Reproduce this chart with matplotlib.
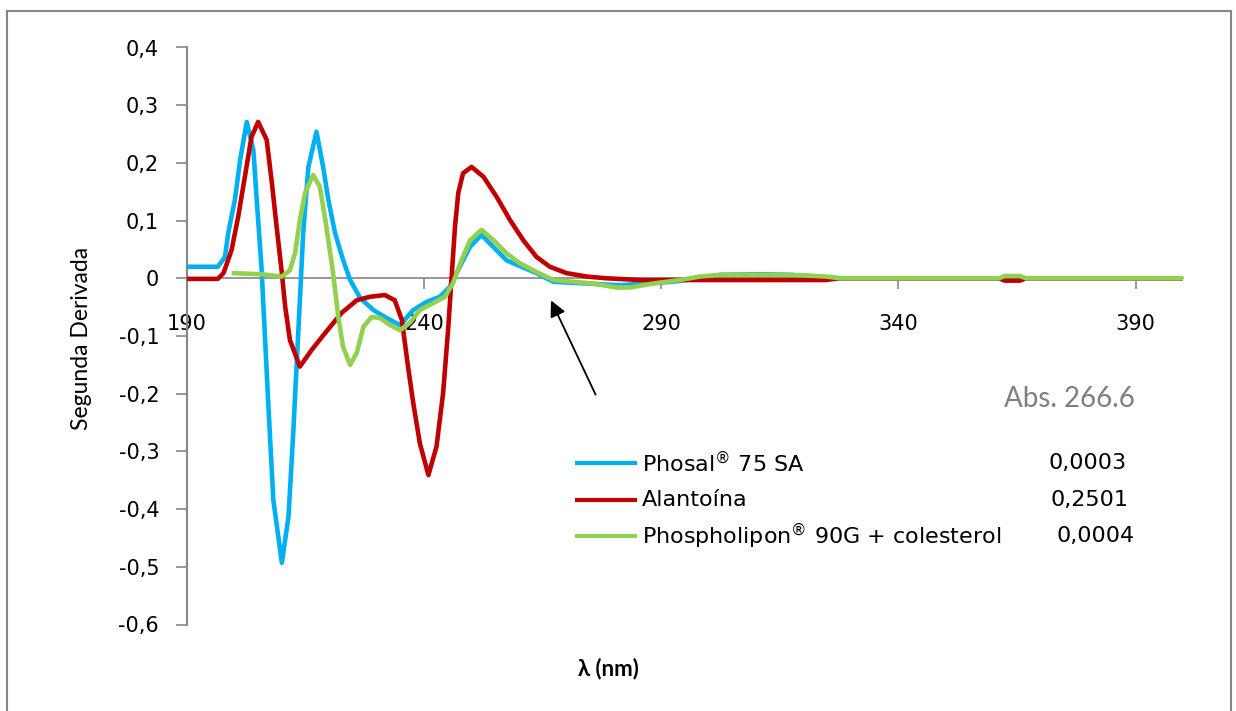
import matplotlib
matplotlib.use("Agg")
import matplotlib.pyplot as plt
from matplotlib.lines import Line2D
from matplotlib.patches import Rectangle

# Phosal 75 SA
blue_nm = [190.0, 196.5, 198.0, 198.7, 200.1, 201.2, 202.6, 204.0, 204.7, 205.7,
           206.4, 207.1, 208.2, 210.0, 211.4, 212.4, 213.1, 213.8, 214.5, 215.6,
           217.3, 218.7, 219.8, 221.2, 222.9, 224.4, 226.5, 229.3, 232.1, 234.9,
           237.7, 240.5, 243.3, 245.4, 247.5, 249.7, 252.1, 257.4, 263.7, 267.2,
           281.3, 292.4, 298.1, 302.4, 311.6, 317.1, 324.9, 327.6, 400.0]
blue_d2 = [0.020, 0.020, 0.037, 0.079, 0.136, 0.205, 0.271, 0.222, 0.136, 0.020,
           -0.095, -0.211, -0.384, -0.493, -0.413, -0.268, -0.153, -0.038, 0.079, 0.193,
           0.254, 0.193, 0.136, 0.079, 0.032, -0.003, -0.034, -0.055, -0.069, -0.081,
           -0.055, -0.041, -0.032, -0.015, 0.020, 0.055, 0.075, 0.031, 0.009, -0.006,
           -0.012, -0.006, 0.000, 0.006, 0.007, 0.006, 0.002, 0.000, 0.000]

# Alantoina
red_nm = [190.0, 196.5, 197.7, 199.4, 200.8, 202.2, 203.6, 205.0, 206.8, 207.9,
          208.9, 210.0, 210.7, 211.7, 213.8, 216.3, 219.1, 222.6, 225.8, 228.6,
          231.7, 233.8, 235.3, 236.6, 237.7, 239.1, 240.9, 242.6, 244.0, 245.1,
          245.8, 246.5, 247.2, 248.2, 250.0, 252.5, 255.3, 258.1, 260.9, 263.7,
          266.5, 270.0, 274.3, 278.5, 285.5, 324.5, 327.6, 361.2, 362.4, 365.6,
          366.9, 400.0]
red_d2 = [-0.001, -0.001, 0.009, 0.049, 0.107, 0.176, 0.245, 0.271, 0.240, 0.165,
          0.089, 0.009, -0.049, -0.107, -0.153, -0.124, -0.095, -0.060, -0.038, -0.032,
          -0.029, -0.038, -0.072, -0.153, -0.216, -0.286, -0.341, -0.292, -0.199, -0.084,
          0.003, 0.089, 0.148, 0.182, 0.193, 0.176, 0.141, 0.101, 0.066, 0.037,
          0.020, 0.009, 0.003, 0.000, -0.003, -0.003, 0.000, 0.000, -0.004, -0.004,
          0.000, 0.000]

# Phospholipon 90G + colesterol
green_nm = [199.4, 205.7, 210.0, 211.7, 212.8, 213.8, 214.9, 216.6, 218.0, 219.4,
            220.8, 221.9, 222.9, 224.4, 225.8, 227.2, 228.9, 230.7, 232.8, 234.9,
            237.0, 239.1, 241.9, 244.4, 246.1, 247.9, 249.7, 252.1, 254.6, 257.4,
            260.2, 263.7, 267.2, 271.4, 275.6, 280.6, 283.4, 288.3, 293.9, 298.1,
            302.4, 317.1, 324.9, 327.6, 361.2, 362.4, 365.6, 366.9, 400.0]
green_d2 = [0.009, 0.007, 0.003, 0.014, 0.044, 0.101, 0.148, 0.179, 0.159, 0.089,
            0.009, -0.067, -0.119, -0.150, -0.129, -0.084, -0.067, -0.069, -0.081, -0.090,
            -0.077, -0.055, -0.043, -0.032, -0.008, 0.032, 0.066, 0.084, 0.066, 0.043,
            0.026, 0.011, -0.003, -0.006, -0.009, -0.016, -0.016, -0.009, -0.003, 0.003,
            0.006, 0.006, 0.003, 0.000, 0.000, 0.004, 0.004, 0.000, 0.000]

names = ["Phosal$^{®}$ 75 SA", "Alantoína", "Phospholipon$^{®}$ 90G + colesterol"]
abs_values = ["0,0003", "0,2501", "0,0004"]
colors = ["#00B0F0", "#C00000", "#92D050"]

x_ticks = [190, 240, 290, 340, 390]
y_ticks = [-0.6, -0.5, -0.4, -0.3, -0.2, -0.1, 0.0, 0.1, 0.2, 0.3, 0.4]

W, H = 1236, 711


def fx(px):
    return px / W


def fy(py):
    return 1 - py / H


fig = plt.figure(figsize=(W / 100, H / 100), dpi=100)
ax = fig.add_axes([fx(187), fy(624.5), fx(1183) - fx(187), fy(47.5) - fy(624.5)])

series = [(blue_nm, blue_d2), (red_nm, red_d2), (green_nm, green_d2)]
for (xs, ys), c in zip(series, colors):
    ax.plot(xs, ys, color=c, lw=3.3, solid_joinstyle="round", solid_capstyle="butt", zorder=3)

ax.set_xlim(190, 400)
ax.set_ylim(-0.6, 0.4)

grey = "#868686"
for s in ["top", "right"]:
    ax.spines[s].set_visible(False)
ax.spines["left"].set_color(grey)
ax.spines["left"].set_linewidth(1.5)
ax.spines["bottom"].set_position(("data", 0))
ax.spines["bottom"].set_color(grey)
ax.spines["bottom"].set_linewidth(1.2)

ax.set_xticks(x_ticks)
ax.set_xticklabels([str(t) for t in x_ticks])
ax.set_yticks(y_ticks)
ax.set_yticklabels(["0" if abs(v) < 1e-9 else f"{v:.1f}".replace(".", ",") for v in y_ticks])
ax.tick_params(axis="y", direction="out", length=8, width=1.2, color=grey,
               labelsize=15, pad=12)
ax.tick_params(axis="x", direction="out", length=8, width=1.2, color=grey,
               labelsize=15, pad=18)

fig.text(fx(82), fy(338), "Segunda Derivada", rotation=90, ha="center", va="center",
         fontsize=16.5, family=["Lato", "DejaVu Sans"])
fig.text(fx(608), fy(669), "λ (nm)", ha="center", va="center", fontsize=16,
         fontweight="bold", family=["Lato", "DejaVu Sans"])

# arrow pointing at 266.6 nm
ax.annotate("", xy=(266.5, -0.034), xytext=(276.4, -0.206),
            arrowprops=dict(arrowstyle="-|>", color="black", lw=1.3, mutation_scale=24))

fig.text(fx(1004), fy(399), "Abs. 266.6", ha="left", va="center", fontsize=20,
         color="#7F7F7F", family=["Lato", "DejaVu Sans"])

# legend with absorbance values
rows = [463, 500, 536]
val_x = [1049, 1050, 1056]
for name, val, c, ry, vx in zip(names, abs_values, colors, rows, val_x):
    fig.add_artist(Line2D([fx(577), fx(635)], [fy(ry), fy(ry)], color=c, lw=3,
                          transform=fig.transFigure))
    fig.text(fx(642), fy(ry), name, ha="left", va="center", fontsize=16)
    fig.text(fx(vx), fy(ry), val, ha="left", va="center", fontsize=16)

# outer chart frame
fig.add_artist(Rectangle((fx(7), -0.05), fx(1231) - fx(7), fy(11) + 0.05, fill=False,
                         edgecolor=grey, lw=1.5, transform=fig.transFigure))

fig.savefig("out.png", dpi=100)
